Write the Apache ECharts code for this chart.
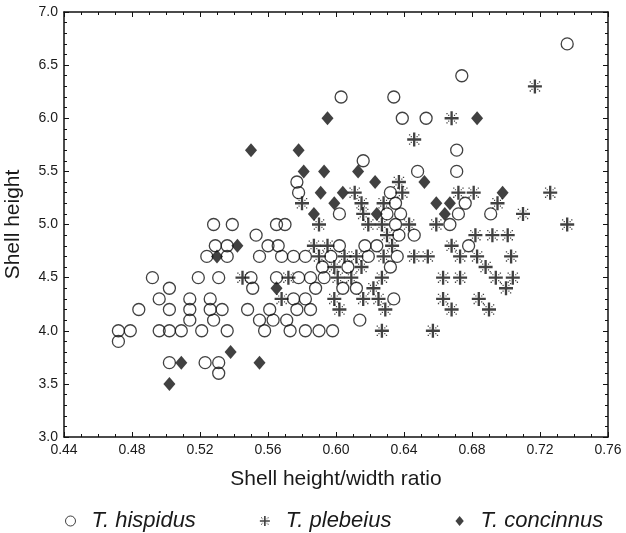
<!DOCTYPE html>
<html>
<head>
<meta charset="utf-8">
<script src="https://cdn.jsdelivr.net/npm/echarts@6/dist/echarts.min.js"></script>
<style>
  html, body { margin: 0; padding: 0; background: #fff; }
  #chart { width: 626px; height: 533px; }
</style>
</head>
<body>
<div id="chart"></div>
<script>
  // [height/width ratio, shell height]
  var hispidus = [
    [0.736,6.7],[0.674,6.4],[0.603,6.2],[0.634,6.2],[0.639,6.0],[0.653,6.0],
    [0.671,5.7],[0.616,5.6],[0.648,5.5],[0.671,5.5],[0.577,5.4],[0.578,5.3],[0.632,5.3],
    [0.635,5.2],[0.676,5.2],
    [0.602,5.1],[0.630,5.1],[0.638,5.1],[0.672,5.1],[0.691,5.1],
    [0.528,5.0],[0.539,5.0],[0.565,5.0],[0.570,5.0],[0.635,5.0],[0.667,5.0],
    [0.553,4.9],[0.637,4.9],[0.646,4.9],
    [0.529,4.8],[0.536,4.8],[0.560,4.8],[0.566,4.8],[0.602,4.8],[0.617,4.8],[0.624,4.8],[0.678,4.8],
    [0.524,4.7],[0.536,4.7],[0.555,4.7],[0.568,4.7],[0.575,4.7],[0.582,4.7],[0.597,4.7],[0.619,4.7],[0.636,4.7],
    [0.592,4.6],[0.607,4.6],[0.632,4.6],
    [0.492,4.5],[0.519,4.5],[0.531,4.5],[0.550,4.5],[0.565,4.5],[0.578,4.5],[0.585,4.5],[0.593,4.5],
    [0.502,4.4],[0.551,4.4],[0.588,4.4],[0.604,4.4],[0.612,4.4],
    [0.496,4.3],[0.514,4.3],[0.526,4.3],[0.575,4.3],[0.582,4.3],[0.634,4.3],
    [0.484,4.2],[0.502,4.2],[0.514,4.2],[0.526,4.2],[0.533,4.2],[0.548,4.2],[0.561,4.2],[0.577,4.2],[0.585,4.2],
    [0.514,4.1],[0.528,4.1],[0.555,4.1],[0.563,4.1],[0.571,4.1],[0.614,4.1],
    [0.472,4.0],[0.479,4.0],[0.496,4.0],[0.502,4.0],[0.509,4.0],[0.521,4.0],[0.536,4.0],[0.558,4.0],
    [0.573,4.0],[0.582,4.0],[0.590,4.0],[0.598,4.0],
    [0.472,3.9],
    [0.502,3.7],[0.523,3.7],[0.531,3.7],
    [0.531,3.6]
  ];

  var plebeius = [
    [0.717,6.3],[0.668,6.0],[0.646,5.8],[0.637,5.4],
    [0.611,5.3],[0.639,5.3],[0.672,5.3],[0.681,5.3],[0.726,5.3],
    [0.580,5.2],[0.615,5.2],[0.628,5.2],[0.695,5.2],
    [0.616,5.1],[0.710,5.1],
    [0.590,5.0],[0.619,5.0],[0.627,5.0],[0.643,5.0],[0.659,5.0],[0.736,5.0],
    [0.630,4.9],[0.682,4.9],[0.692,4.9],[0.701,4.9],
    [0.587,4.8],[0.595,4.8],[0.633,4.8],[0.668,4.8],
    [0.590,4.7],[0.605,4.7],[0.612,4.7],[0.628,4.7],[0.646,4.7],[0.654,4.7],[0.673,4.7],[0.683,4.7],[0.703,4.7],
    [0.599,4.6],[0.615,4.6],[0.688,4.6],
    [0.545,4.5],[0.572,4.5],[0.601,4.5],[0.609,4.5],[0.627,4.5],[0.663,4.5],[0.673,4.5],[0.694,4.5],[0.704,4.5],
    [0.622,4.4],[0.700,4.4],
    [0.568,4.3],[0.599,4.3],[0.616,4.3],[0.625,4.3],[0.663,4.3],[0.684,4.3],
    [0.602,4.2],[0.629,4.2],[0.668,4.2],[0.690,4.2],
    [0.627,4.0],[0.657,4.0]
  ];

  var concinnus = [
    [0.595,6.0],[0.683,6.0],[0.550,5.7],[0.578,5.7],[0.581,5.5],[0.593,5.5],[0.613,5.5],
    [0.623,5.4],[0.652,5.4],[0.591,5.3],[0.604,5.3],[0.698,5.3],
    [0.599,5.2],[0.659,5.2],[0.667,5.2],
    [0.587,5.1],[0.624,5.1],[0.664,5.1],
    [0.542,4.8],[0.530,4.7],[0.565,4.4],
    [0.538,3.8],[0.509,3.7],[0.555,3.7],[0.502,3.5]
  ];

  var seriesNames = ['T. hispidus', 'T. plebeius', 'T. concinnus'];

  // plus with little dotted diagonals
  var plusPath = 'path://M5 0H7V12H5Z M0 5H12V7H0Z' +
    'M1.5 1.5h1.1v1.1h-1.1z M3 3h1v1h-1z M9.4 1.5h1.1v1.1h-1.1z M8 3h1v1h-1z' +
    'M1.5 9.4h1.1v1.1h-1.1z M3 8h1v1h-1z M9.4 9.4h1.1v1.1h-1.1z M8 8h1v1h-1z';
  var diamondPath = 'path://M5 0L10 6L5 12L0 6Z';

  var ink = '#111';
  var font = '"Liberation Sans", Arial, sans-serif';

  function frameAxis(isX, pos, showLabel, name) {
    var a = {
      type: 'value',
      position: pos,
      min: isX ? 0.44 : 3.0,
      max: isX ? 0.76 : 7.0,
      interval: isX ? 0.04 : 0.5,
      axisLine: { show: true, onZero: false, lineStyle: { color: ink, width: 1.5 } },
      axisTick: { show: true, inside: true, length: 5, lineStyle: { color: ink, width: 1 } },
      minorTick: { show: true, splitNumber: isX ? 4 : 5, length: 3, lineStyle: { color: ink, width: 1 } },
      splitLine: { show: false },
      axisLabel: {
        show: showLabel,
        color: '#1a1a1a',
        fontFamily: font,
        fontSize: 14,
        margin: 6,
        formatter: function (v) { return v.toFixed(isX ? 2 : 1); }
      }
    };
    if (name) {
      a.name = name;
      a.nameLocation = 'middle';
      a.nameGap = isX ? 32 : 40;
      a.nameTextStyle = { color: '#1a1a1a', fontFamily: font, fontSize: 21 };
    }
    return a;
  }

  var chart = echarts.init(document.getElementById('chart'));
  var option = {
    backgroundColor: '#fff',
    animation: false,
    grid: { left: 64, right: 18, top: 12, bottom: 96, containLabel: false, outerBoundsMode: 'none' },
    xAxis: [
      frameAxis(true, 'bottom', true, 'Shell height/width ratio'),
      frameAxis(true, 'top', false)
    ],
    yAxis: [
      frameAxis(false, 'left', true, 'Shell height'),
      frameAxis(false, 'right', false)
    ],
    legend: {
      top: 505,
      left: 60,
      itemGap: 64,
      itemWidth: 10,
      itemHeight: 10,
      textStyle: { fontFamily: font, fontSize: 22, fontStyle: 'italic', color: '#1a1a1a', padding: [0, 0, 0, 11] },
      data: [
        { name: seriesNames[0], icon: 'circle', itemStyle: { color: '#fff', borderColor: ink, borderWidth: 1 } },
        { name: seriesNames[1], icon: plusPath, itemStyle: { color: ink } },
        { name: seriesNames[2], icon: diamondPath, itemStyle: { color: ink } }
      ]
    },
    series: [
      {
        name: seriesNames[0],
        type: 'scatter',
        data: hispidus,
        symbol: 'circle',
        symbolSize: 12,
        itemStyle: { color: 'rgba(255,255,255,0)', borderColor: ink, borderWidth: 1.3 }
      },
      {
        name: seriesNames[1],
        type: 'scatter',
        data: plebeius,
        symbol: plusPath,
        symbolSize: 14,
        itemStyle: { color: ink }
      },
      {
        name: seriesNames[2],
        type: 'scatter',
        data: concinnus,
        symbol: 'diamond',
        symbolSize: [12, 14],
        itemStyle: { color: ink }
      }
    ]
  };
  chart.setOption(option);
</script>
</body>
</html>
